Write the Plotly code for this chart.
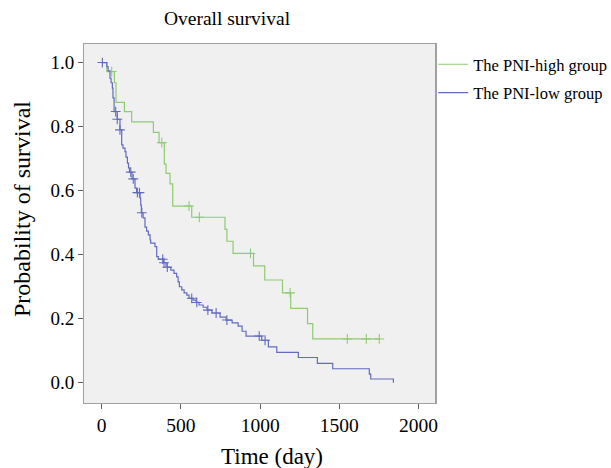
import plotly.graph_objects as go

# ---- Data ----
# PNI-high group: Kaplan-Meier step points (time in days, survival probability)
high_time = [0, 32, 80, 90, 143, 189, 326, 362, 395, 406, 431, 448, 568, 778, 790,
             829, 958, 1029, 1141, 1193, 1299, 1332, 1752]
high_surv = [1.0, 0.972, 0.937, 0.876, 0.847, 0.815, 0.782, 0.75, 0.683, 0.654, 0.621,
             0.552, 0.517, 0.479, 0.442, 0.404, 0.365, 0.321, 0.281, 0.2325, 0.185,
             0.137, 0.137]
high_cens_time = [63, 379, 551, 616, 939, 1189, 1550, 1670, 1752]
high_cens_surv = [0.972, 0.75, 0.552, 0.517, 0.404, 0.281, 0.137, 0.137, 0.137]

# PNI-low group
low_time = [0, 32, 40, 52, 59, 67, 71, 78, 98, 115, 126, 134, 147, 153, 162, 169, 175,
            191, 210, 220, 242, 246, 250, 261, 273, 283, 294, 305, 309, 336, 347, 357,
            390, 406, 436, 456, 473, 482, 490, 505, 520, 537, 551, 576, 596, 614, 640,
            665, 696, 747, 785, 823, 861, 886, 911, 1010, 1052, 1105, 1241, 1361, 1458,
            1689, 1698, 1841]
low_surv = [1.0, 0.9875, 0.974, 0.951, 0.937, 0.92, 0.89, 0.847, 0.823, 0.79, 0.743,
            0.733, 0.722, 0.705, 0.686, 0.671, 0.658, 0.637, 0.608, 0.594, 0.577, 0.555,
            0.531, 0.515, 0.486, 0.474, 0.462, 0.446, 0.436, 0.425, 0.394, 0.386, 0.375,
            0.361, 0.352, 0.342, 0.331, 0.315, 0.30, 0.29, 0.281, 0.274, 0.264, 0.258,
            0.251, 0.243, 0.236, 0.227, 0.218, 0.205, 0.196, 0.187, 0.177, 0.161, 0.146,
            0.133, 0.1125, 0.095, 0.079, 0.061, 0.044, 0.027, 0.012, 0.0]
low_cens_time = [4, 88, 98, 115, 183, 199, 225, 238, 253, 385, 393, 414, 568, 600, 670,
                 722, 790, 994, 1031]
low_cens_surv = [1.0, 0.847, 0.823, 0.79, 0.658, 0.637, 0.594, 0.594, 0.531, 0.386,
                 0.375, 0.361, 0.264, 0.251, 0.227, 0.218, 0.196, 0.146, 0.133]

x_ticks = [0, 500, 1000, 1500, 2000]
y_ticks = [0.0, 0.2, 0.4, 0.6, 0.8, 1.0]

GREEN = "#8fca74"
BLUE = "#626bbe"
FONT = "Liberation Serif, Times New Roman, serif"

fig = go.Figure()
fig.add_trace(go.Scatter(x=high_time, y=high_surv, mode="lines", line_shape="hv",
                         line=dict(color=GREEN, width=1.2), name="The PNI-high group",
                         legendgroup="h"))
fig.add_trace(go.Scatter(x=high_cens_time, y=high_cens_surv, mode="markers",
                         marker=dict(symbol="cross-thin", size=7,
                                     line=dict(color=GREEN, width=1.1)),
                         showlegend=False, legendgroup="h", hoverinfo="skip"))
fig.add_trace(go.Scatter(x=low_time, y=low_surv, mode="lines", line_shape="hv",
                         line=dict(color=BLUE, width=1.2), name="The PNI-low group",
                         legendgroup="l"))
fig.add_trace(go.Scatter(x=low_cens_time, y=low_cens_surv, mode="markers",
                         marker=dict(symbol="cross-thin", size=7,
                                     line=dict(color=BLUE, width=1.1)),
                         showlegend=False, legendgroup="l", hoverinfo="skip"))

fig.update_layout(
    width=611, height=468,
    margin=dict(l=84, r=175, t=44, b=65, autoexpand=False),
    paper_bgcolor="white", plot_bgcolor="#f0f0f0",
    font=dict(family=FONT, color="black", size=15),
    title=dict(text="Overall survival", x=227 / 611, xanchor="center",
               y=1 - 18 / 468, yanchor="middle", font=dict(size=19.5, family=FONT)),
    showlegend=True,
    legend=dict(x=0.992, y=0.9916, xanchor="left", yanchor="top",
                font=dict(size=16.5, family=FONT), bgcolor="rgba(0,0,0,0)",
                tracegroupgap=4, itemwidth=30),
    annotations=[
        dict(text="Time (day)", xref="paper", yref="paper",
             x=(272 - 84) / 352, y=-(456 - 403) / 359, xanchor="center", yanchor="middle",
             showarrow=False, font=dict(size=23, family=FONT)),
        dict(text="Probability of survival", xref="paper", yref="paper",
             x=-(84 - 22) / 352, y=(403 - 209) / 359, xanchor="center", yanchor="middle",
             textangle=-90, showarrow=False, font=dict(size=24, family=FONT)),
    ],
)
fig.update_xaxes(range=[-112, 2110], tickvals=x_ticks, ticks="outside", ticklen=5,
                 tickcolor="#606060", showline=True, linecolor="#a0a0a0", linewidth=1,
                 mirror=True, showgrid=False, zeroline=False, automargin=False,
                 tickfont=dict(size=19.5, family=FONT))
fig.update_yaxes(range=[-0.063, 1.058], tickvals=y_ticks, tickformat=".1f",
                 ticks="outside", ticklen=5, tickcolor="#606060", showline=True,
                 linecolor="#a0a0a0", linewidth=1, mirror=True, showgrid=False,
                 zeroline=False, automargin=False,
                 tickfont=dict(size=19, family=FONT))
fig.add_shape(type="line", xref="paper", yref="paper", x0=1, x1=1, y0=0, y1=1,
              line=dict(color="#a0a0a0", width=2))

fig.write_html("out.html", config={"displayModeBar": False},
               post_script="document.body.style.margin='0';document.body.style.overflow='hidden';")
